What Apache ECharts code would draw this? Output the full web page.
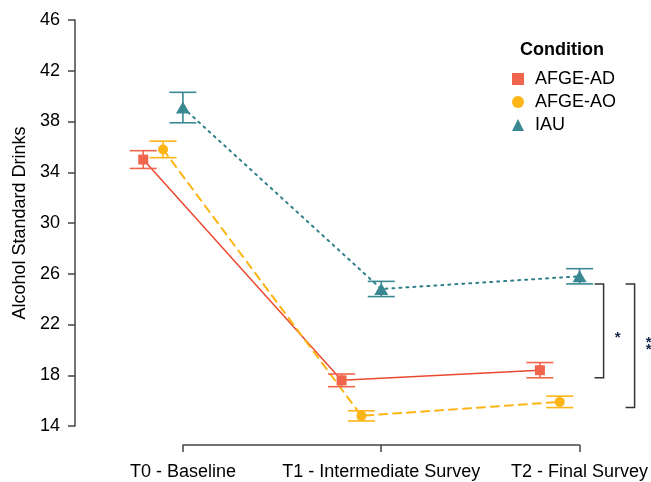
<!DOCTYPE html>
<html>
<head>
<meta charset="utf-8">
<script src="https://cdn.jsdelivr.net/npm/echarts@6/dist/echarts.min.js"></script>
<style>
  html, body { margin: 0; padding: 0; background: #fff; }
  #chart { width: 651px; height: 482px; }
</style>
</head>
<body>
<div id="chart"></div>
<script>
// data
var categories = ['T0 - Baseline', 'T1 - Intermediate Survey', 'T2 - Final Survey'];
var conditions = ['AFGE-AD', 'AFGE-AO', 'IAU'];
var adMean = [35.0, 17.6, 18.4];
var adErr = [0.7, 0.5, 0.6];
var aoMean = [35.8, 14.8, 15.9];
var aoErr = [0.65, 0.4, 0.45];
var iauMean = [39.1, 24.8, 25.8];
var iauErr = [1.2, 0.6, 0.6];
var dodge = [-0.2, -0.1, 0];
var yMin = 14, yMax = 46, yStep = 4;
var brackets = [
  { time: 2, top: 'IAU', bottom: 'AFGE-AD', label: '*' },
  { time: 2, top: 'IAU', bottom: 'AFGE-AO', label: '**' }
];

var FONT = "'Liberation Sans', Arial, sans-serif";
var colors = { 'AFGE-AD': '#F0654C', 'AFGE-AO': '#FDB515', 'IAU': '#3A8892' };
var lineColors = { 'AFGE-AD': '#EC4A30', 'AFGE-AO': '#FDB515', 'IAU': '#2F7F8A' };
var symbols = { 'AFGE-AD': 'rect', 'AFGE-AO': 'circle', 'IAU': 'triangle' };
var symbolSizes = { 'AFGE-AD': 10, 'AFGE-AO': 10, 'IAU': [14, 12] };
var lineTypes = { 'AFGE-AD': 'solid', 'AFGE-AO': [8, 6], 'IAU': [2, 5] };
var means = { 'AFGE-AD': adMean, 'AFGE-AO': aoMean, 'IAU': iauMean };
var errs = { 'AFGE-AD': adErr, 'AFGE-AO': aoErr, 'IAU': iauErr };

var chart = echarts.init(document.getElementById('chart'));

var series = [];
conditions.forEach(function (c, ci) {
  var pts = means[c].map(function (v, t) { return [t + dodge[ci], v]; });
  series.push({
    name: c,
    type: 'line',
    xAxisIndex: 0, yAxisIndex: 0,
    data: pts,
    symbol: symbols[c],
    symbolSize: symbolSizes[c],
    itemStyle: { color: colors[c] },
    lineStyle: { color: lineColors[c], width: c == 'AFGE-AD' ? 1.5 : 2, type: lineTypes[c], cap: 'round' },
    z: 3
  });
  var bars = means[c].map(function (v, t) {
    return [t + dodge[ci], v - errs[c][t], v + errs[c][t]];
  });
  series.push({
    name: c,
    type: 'custom',
    xAxisIndex: 0, yAxisIndex: 0,
    data: bars,
    z: 4,
    renderItem: function (params, api) {
      var lo = api.coord([api.value(0), api.value(1)]);
      var hi = api.coord([api.value(0), api.value(2)]);
      var hw = 13.5;
      var st = { stroke: colors[c], lineWidth: 1.6 };
      return {
        type: 'group',
        children: [
          { type: 'line', shape: { x1: lo[0], y1: lo[1], x2: hi[0], y2: hi[1] }, style: st },
          { type: 'line', shape: { x1: lo[0] - hw, y1: lo[1], x2: lo[0] + hw, y2: lo[1] }, style: st },
          { type: 'line', shape: { x1: hi[0] - hw, y1: hi[1], x2: hi[0] + hw, y2: hi[1] }, style: st }
        ]
      };
    }
  });
});

// significance brackets
var bracketData = brackets.map(function (b) {
  var top = means[b.top][b.time] - errs[b.top][b.time];
  var bot = means[b.bottom][b.time] - errs[b.bottom][b.time];
  return [b.time, top, bot, b.label];
});
series.push({
  type: 'custom',
  xAxisIndex: 0, yAxisIndex: 0,
  data: bracketData,
  silent: true,
  clip: false,
  renderItem: function (params, api) {
    var i = params.dataIndex;
    var p1 = api.coord([api.value(0), api.value(1)]);
    var p2 = api.coord([api.value(0), api.value(2)]);
    var x0 = p1[0] + 15 + i * 31;
    var x1 = x0 + 9;
    var lab = bracketData[i][3];
    var kids = [
      { type: 'polyline', shape: { points: [[x0, p1[1]], [x1, p1[1]], [x1, p2[1]], [x0, p2[1]]] }, style: { stroke: '#333', lineWidth: 1.5, fill: null } }
    ];
    var mid = (p1[1] + p2[1]) / 2 + 7 - (lab.length - 1) * 6.5;
    for (var k = 0; k < lab.length; k++) {
      kids.push({
        type: 'text',
        x: x1 + 14,
        y: mid + (k - (lab.length - 1) / 2) * 7,
        style: { text: '*', fill: '#1a2a4a', font: 'bold 15px ' + FONT, align: 'center', verticalAlign: 'middle' }
      });
    }
    return { type: 'group', children: kids };
  }
});

var option = {
  animation: false,
  backgroundColor: '#fff',
  title: {
    text: 'Condition',
    left: 515, top: 36,
    textStyle: { fontFamily: FONT, fontSize: 18, fontWeight: 'bold', color: '#000' }
  },
  legend: {
    orient: 'vertical',
    left: 507, top: 65,
    itemWidth: 12, itemHeight: 12, itemGap: 5,
    data: conditions.map(function (c) { return { name: c, icon: symbols[c] }; }),
    textStyle: { fontFamily: FONT, fontSize: 18, color: '#000', padding: [0, 0, 0, 6] }
  },
  grid: [
    { left: 75, right: 0, top: 20, height: 406 },
    { left: 183, right: 71, top: 444, height: 1 }
  ],
  xAxis: [
    { type: 'value', gridIndex: 0, min: -0.544, max: 2.36, show: false },
    {
      type: 'category', gridIndex: 1, data: categories, boundaryGap: false,
      axisLine: { lineStyle: { color: '#444', width: 1.5 } },
      axisTick: { length: 7, lineStyle: { color: '#444', width: 1.5 } },
      axisLabel: { interval: 0, margin: 18, fontFamily: FONT, fontSize: 18, color: '#000' },
      splitLine: { show: false }
    }
  ],
  yAxis: [
    {
      type: 'value', gridIndex: 0, min: yMin, max: yMax, interval: yStep,
      name: 'Alcohol Standard Drinks', nameLocation: 'middle', nameGap: 44, nameRotate: 90,
      nameTextStyle: { fontFamily: FONT, fontSize: 18, color: '#000' },
      axisLine: { show: true, onZero: false, lineStyle: { color: '#444', width: 1.5 } },
      axisTick: { show: true, length: 7, lineStyle: { color: '#444', width: 1.5 } },
      axisLabel: { margin: 15, fontFamily: FONT, fontSize: 18, color: '#000' },
      splitLine: { show: false }
    },
    { type: 'value', gridIndex: 1, show: false }
  ],
  series: series
};

chart.setOption(option);
</script>
</body>
</html>
